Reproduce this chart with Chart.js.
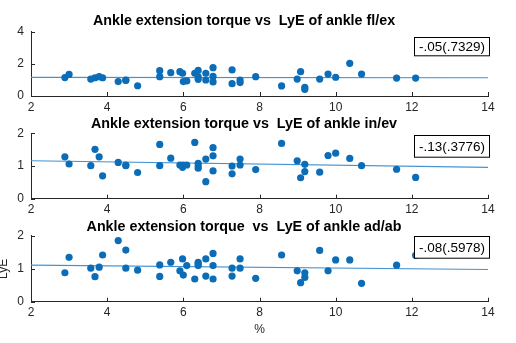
<!DOCTYPE html>
<html>
<head>
<meta charset="utf-8">
<script src="https://cdn.jsdelivr.net/npm/chart.js@4.4.1/dist/chart.umd.min.js"></script>
<style>
  html, body { margin: 0; padding: 0; background: #fff; }
  body { width: 516px; height: 343px; position: relative; overflow: hidden; }
  canvas { position: absolute; left: 0; }
</style>
</head>
<body>
<canvas id="c1" width="516" height="115" style="top:0px"></canvas>
<canvas id="c2" width="516" height="108" style="top:110px"></canvas>
<canvas id="c3" width="516" height="125" style="top:218px"></canvas>
<script>
// ---- data ----
const xPct = [2.89, 3.0, 3.57, 3.68, 3.79, 3.88, 4.29, 4.49, 4.49, 4.8, 5.38, 5.38, 5.67, 5.91, 5.98, 6.0, 6.09, 6.3, 6.39, 6.39, 6.39, 6.59, 6.59, 6.78, 6.78, 6.78, 7.28, 7.28, 7.49, 7.49, 7.9, 8.58, 8.99, 9.08, 9.19, 9.19, 9.58, 9.8, 10.0, 10.37, 10.68, 11.6, 12.1];
const lyeFlEx = [1.15, 1.35, 1.06, 1.14, 1.21, 1.14, 0.9, 1.0, 0.97, 0.64, 1.58, 1.21, 1.46, 1.52, 1.42, 0.9, 0.94, 1.42, 1.6, 1.2, 1.04, 1.42, 1.0, 1.77, 1.22, 0.88, 1.63, 0.77, 1.0, 0.84, 1.21, 0.63, 1.06, 1.52, 0.54, 0.42, 1.06, 1.37, 1.17, 2.04, 1.37, 1.12, 1.12];
const lyeInEv = [1.28, 1.06, 1.01, 1.51, 1.28, 0.70, 1.11, 1.01, 1.03, 0.80, 1.66, 1.01, 1.24, 1.03, 0.96, 1.03, 1.03, 1.72, 1.08, 0.93, 1.0, 1.21, 0.52, 1.56, 1.31, 0.85, 1.0, 0.76, 1.21, 1.03, 0.89, 1.69, 1.16, 0.64, 1.05, 0.83, 0.81, 1.32, 1.39, 1.23, 1.01, 0.90, 0.65];
const lyeAdAb = [0.88, 1.35, 1.02, 0.76, 1.05, 1.42, 1.86, 1.57, 1.02, 0.96, 1.12, 0.77, 1.2, 0.94, 1.3, 0.81, 1.1, 0.69, 1.2, 1.1, 1.15, 1.3, 0.78, 1.47, 1.1, 0.69, 1.02, 0.78, 1.3, 1.02, 0.71, 1.42, 0.94, 0.58, 0.88, 0.74, 1.56, 0.94, 1.27, 1.27, 0.56, 1.11, 1.41];
const fitX = [2, 14];
const fitFlEx = [1.16, 1.14];
const fitInEv = [1.16, 0.96];
const fitAdAb = [1.11, 0.98];
const titles = ['Ankle extension torque vs  LyE of ankle fl/ex', 'Ankle extension torque vs  LyE of ankle in/ev', 'Ankle extension torque  vs  LyE of ankle ad/ab'];
const rLabels = ['-.05(.7329)', '-.13(.3776)', '-.08(.5978)'];
const yMaxes = [4, 2, 2];
const yStepSizes = [2, 1, 1];
const xTitle = '%';
const yTitle = 'LyE';

const FONT = "'Liberation Sans', Arial, sans-serif";
const DOT = '#0b6db7';
const FITC = '#4393d3';
const AX = '#262626';

const matlabPlugin = {
  id: 'matlab',
  afterDraw(chart, args, o) {
    const { ctx, chartArea: a, scales: { x, y } } = chart;
    ctx.save();
    ctx.strokeStyle = AX; ctx.lineWidth = 1;
    x.ticks.forEach(t => {
      const px = Math.round(x.getPixelForValue(t.value)) + 0.5;
      ctx.beginPath(); ctx.moveTo(px, a.bottom); ctx.lineTo(px, a.bottom - 4); ctx.stroke();
    });
    y.ticks.forEach(t => {
      const py = Math.round(y.getPixelForValue(t.value)) + 0.5;
      ctx.beginPath(); ctx.moveTo(a.left, py); ctx.lineTo(a.left + 4, py); ctx.stroke();
    });
    // annotation box
    const bw = 75, bh = o.boxH;
    const bx = Math.round(a.right - bw + 1) + 0.5;
    const by = Math.round(a.top + o.boxTop) + 0.5;
    ctx.fillStyle = '#fff';
    ctx.fillRect(bx, by, bw, bh);
    ctx.strokeStyle = '#000';
    ctx.strokeRect(bx, by, bw, bh);
    ctx.fillStyle = '#000';
    ctx.font = '13.5px ' + FONT;
    ctx.textAlign = 'center'; ctx.textBaseline = 'middle';
    ctx.fillText(o.label, bx + bw / 2, by + bh / 2 + 0.5);
    if (o.yLabel) {
      ctx.save();
      ctx.translate(6.5, (a.top + a.bottom) / 2);
      ctx.rotate(-Math.PI / 2);
      ctx.textAlign = 'center'; ctx.textBaseline = 'alphabetic';
      ctx.font = '12px ' + FONT;
      ctx.fillStyle = AX;
      ctx.fillText(o.yLabel, 0, 0);
      ctx.restore();
    }
    ctx.restore();
  }
};

function makePanel(id, i, ys, fit, cfg) {
  const pts = xPct.map((v, k) => ({ x: v, y: ys[k] }));
  const line = fitX.map((v, k) => ({ x: v, y: fit[k] }));
  new Chart(document.getElementById(id), {
    type: 'scatter',
    data: {
      datasets: [
        { data: pts, backgroundColor: DOT, borderWidth: 0, pointRadius: 3.6, pointHoverRadius: 3.6, order: 1 },
        { data: line, showLine: true, borderColor: FITC, borderWidth: 1.2, pointRadius: 0, fill: false, order: 2 }
      ]
    },
    options: {
      responsive: false, animation: false, devicePixelRatio: 1,
      layout: { padding: { left: 0, right: 28, top: 0, bottom: 0 } },
      plugins: {
        legend: { display: false }, tooltip: { enabled: false },
        title: { display: true, text: titles[i], color: '#000', font: { family: FONT, size: 14.3, weight: 'bold', lineHeight: 1.2 }, padding: { top: cfg.tTop, bottom: cfg.tBottom } },
        matlab: { label: rLabels[i], boxTop: cfg.boxTop, boxH: cfg.boxH, yLabel: cfg.yLabel }
      },
      scales: {
        x: {
          type: 'linear', min: 2, max: 14,
          ticks: { stepSize: 2, color: AX, font: { family: FONT, size: 12 }, padding: 4, maxRotation: 0, autoSkip: false },
          grid: { display: false, drawTicks: false },
          border: { display: true, color: AX, width: 1 },
          title: cfg.xTitle ? { display: true, text: xTitle, color: AX, font: { family: FONT, size: 12 }, padding: { top: 0, bottom: 6 } } : { display: false },
          afterFit: s => { s.height = cfg.xH; }
        },
        y: {
          type: 'linear', min: 0, max: yMaxes[i],
          ticks: { stepSize: yStepSizes[i], color: AX, font: { family: FONT, size: 12 }, padding: 7 },
          grid: { display: false, drawTicks: false },
          border: { display: true, color: AX, width: 1 },
          afterFit: s => { s.width = 31; }
        }
      }
    },
    plugins: [matlabPlugin]
  });
}

makePanel('c1', 0, lyeFlEx, fitFlEx, { tTop: 12.1, tBottom: 2.7, xH: 19, boxTop: 4.7, boxH: 18.3 });
makePanel('c2', 1, lyeInEv, fitInEv, { tTop: 5.7, tBottom: 0.4, xH: 19.3, boxTop: 1.7, boxH: 21.7 });
makePanel('c3', 2, lyeAdAb, fitAdAb, { tTop: 0.1, tBottom: 0.7, xH: 41.3, boxTop: 0, boxH: 21.7, xTitle: true, yLabel: yTitle });
</script>
</body>
</html>
